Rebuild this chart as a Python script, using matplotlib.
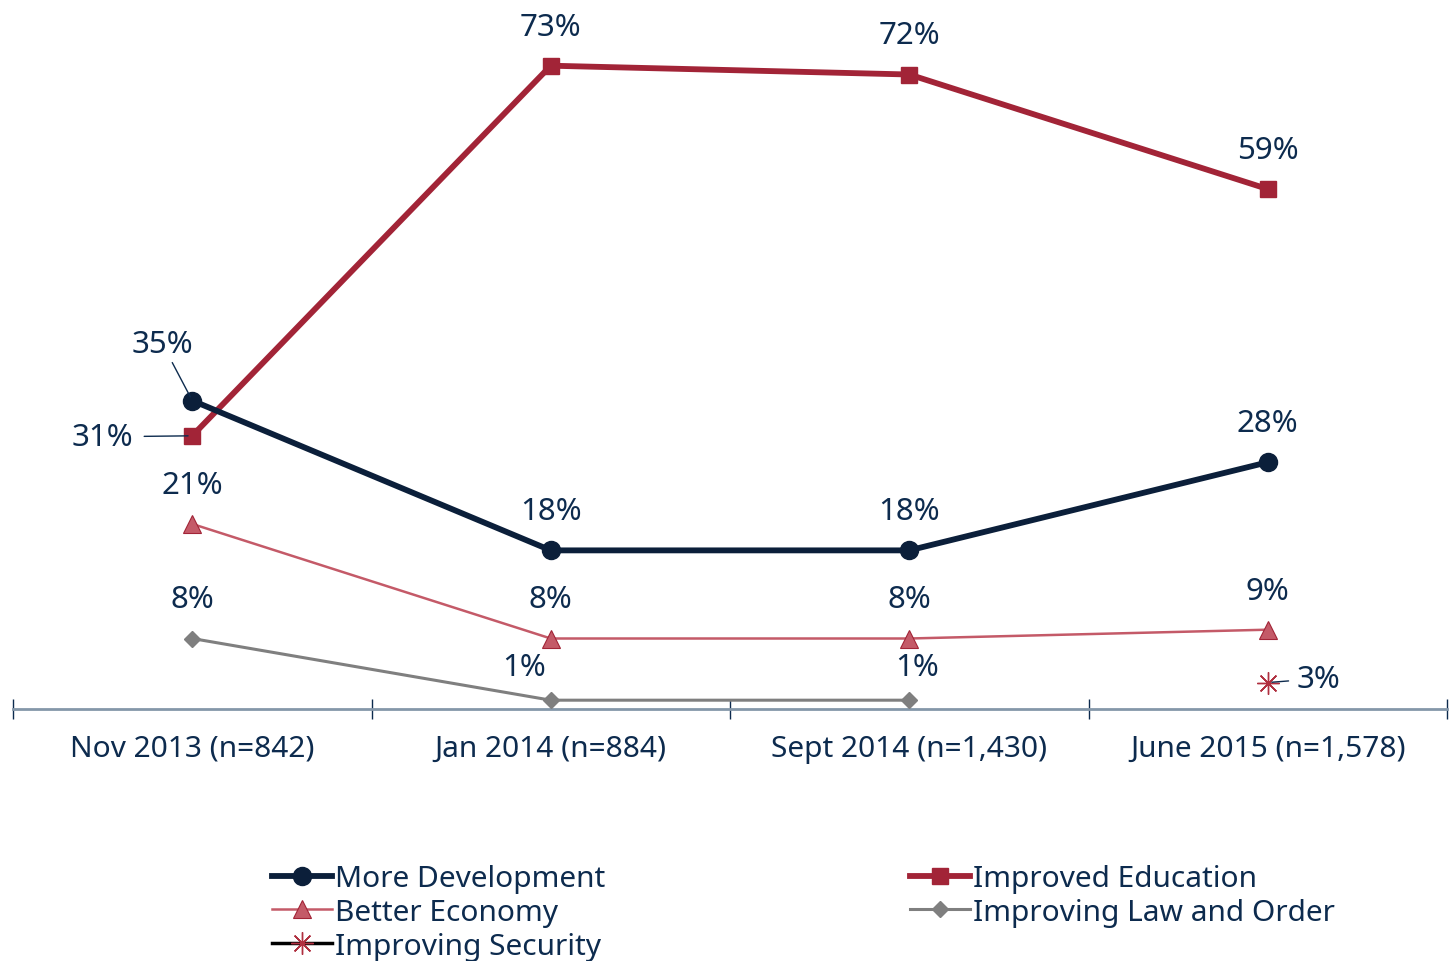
import numpy as np
import matplotlib
matplotlib.use("Agg")
import matplotlib.pyplot as plt

# chart data
categories = ["Nov 2013 (n=842)", "Jan 2014 (n=884)", "Sept 2014 (n=1,430)", "June 2015 (n=1,578)"]
more_development = [35, 18, 18, 28]
improved_education = [31, 73, 72, 59]
better_economy = [21, 8, 8, 9]
law_and_order = [8, 1, 1, np.nan]
security = [np.nan, np.nan, np.nan, 3]

TXT = "#0d2b4e"
plt.rcParams['font.family'] = ['Noto Sans', 'DejaVu Sans']
FS = 21.5
LFS = 22.5

fig = plt.figure(figsize=(14.49, 9.62), dpi=100)
ax = fig.add_axes([13/1449, 1 - 710/962, (1447 - 13)/1449, (710 - 5)/962])
x = np.arange(len(categories))

l_dev, = ax.plot(x, more_development, color="#0b1f3a", lw=4.2, marker="o", ms=13, clip_on=False, zorder=5)
l_edu, = ax.plot(x, improved_education, color="#a22437", lw=4.2, marker="s", ms=11, clip_on=False, zorder=4)
l_eco, = ax.plot(x, better_economy, color="#c45a68", lw=1.8, marker="^", ms=13,
                 mfc="#c45a68", mec="#a22437", mew=0.8, clip_on=False, zorder=3)
l_law, = ax.plot(x, law_and_order, color="#7f7f7f", lw=2.2, marker="D", ms=8, clip_on=False, zorder=3)
l_sec, = ax.plot(x, security, color="black", lw=2.5, marker=(8, 2, 0), ms=16,
                 mec="#b03040", mew=1.0, clip_on=False, zorder=3)

ax.set_xlim(-0.5, 3.5)
ax.set_ylim(0, 80)

# data labels, offsets in pixels
def lab(xi, v, dx=0, dy=39, line=None):
    kw = dict(xytext=(dx, dy), textcoords="offset pixels", ha="center", va="center",
              fontsize=LFS, color=TXT, zorder=6)
    if line is not None:
        kw["arrowprops"] = dict(arrowstyle="-", color=TXT, lw=1, shrinkA=line, shrinkB=3)
    ax.annotate(f"{v}%", (xi, v), **kw)

for i in range(4):
    if i == 0:
        lab(i, more_development[i], -30, 57, line=1)
        lab(i, improved_education[i], -90, -1, line=6)
    else:
        lab(i, more_development[i])
        lab(i, improved_education[i])
    lab(i, better_economy[i])
    if not np.isnan(law_and_order[i]):
        if i == 0:
            lab(i, int(law_and_order[i]))
        elif i == 1:
            lab(i, int(law_and_order[i]), -27, 33)
        else:
            lab(i, int(law_and_order[i]), 8, 33)
lab(3, security[3], 51, 4, line=4)

# axis styling
for s in ["top", "right", "left"]:
    ax.spines[s].set_visible(False)
ax.spines["bottom"].set_color("#8497a9")
ax.spines["bottom"].set_linewidth(2)
ax.set_yticks([])
ax.set_xticks(x)
ax.set_xticklabels(categories, fontsize=FS, color=TXT)
ax.tick_params(axis="x", which="major", length=0, pad=18)
ax.set_xticks([-0.5, 0.5, 1.5, 2.5, 3.5], minor=True)
ax.tick_params(axis="x", which="minor", direction="inout", length=14, width=1, color=TXT)

# legend in two blocks
leg_kw = dict(frameon=False, fontsize=FS, labelcolor=TXT, handlelength=2.0,
              handletextpad=0.1, labelspacing=0.16, borderpad=0, borderaxespad=0, loc="upper left")
fig.legend([l_dev, l_eco, l_sec], ["More Development", "Better Economy", "Improving Security"],
           bbox_to_anchor=(272/1449, 1 - 865/962), **leg_kw)
fig.legend([l_edu, l_law], ["Improved Education", "Improving Law and Order"],
           bbox_to_anchor=(910/1449, 1 - 865/962), **leg_kw)

fig.savefig("out.png", dpi=100, facecolor="white")
